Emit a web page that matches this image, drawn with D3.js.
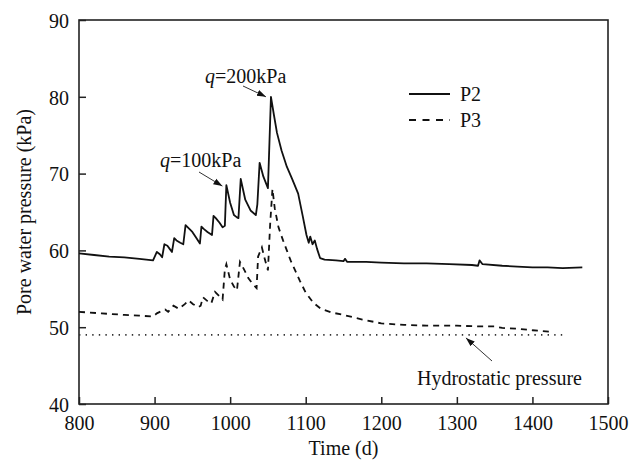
<!DOCTYPE html>
<html><head><meta charset="utf-8">
<script src="https://cdn.jsdelivr.net/npm/d3@7"></script>
<style>body{margin:0;background:#fff}svg{display:block}</style>
</head><body>
<svg id="c" width="640" height="465" font-family="Liberation Serif, Tinos, Times New Roman, DejaVu Serif, serif"></svg>
<script>
const FONT = "Liberation Serif, Tinos, Times New Roman, DejaVu Serif, serif";
const xTicks = [800, 900, 1000, 1100, 1200, 1300, 1400, 1500];
const yTicks = [40, 50, 60, 70, 80, 90];
const seriesNames = ["P2", "P3"];
const p2Time = [800,820,840,860,880,898,903,907,910,913,917,920,923,926,929,934,938,941,944,950,954,960,962,965,970,976,978,981,986,990,993,995,1000,1005,1009,1011,1014,1020,1027,1034,1036,1039,1044,1050,1052,1054,1058,1062,1068,1075,1082,1090,1096,1101,1104,1106,1109,1112,1115,1119,1125,1140,1150,1152,1155,1180,1200,1230,1260,1290,1320,1328,1330,1334,1360,1380,1400,1420,1440,1466];
const p2Val  = [59.6,59.4,59.2,59.1,58.9,58.7,59.8,59.5,59.1,60.8,60.6,60.2,59.8,61.6,61.3,61.0,60.8,63.3,63.0,62.4,61.8,60.9,63.1,62.8,62.4,62.0,64.5,64.2,63.6,63.0,63.2,68.5,66.2,64.6,64.3,64.2,69.3,66.6,65.2,64.6,66.0,71.4,69.6,68.1,74.0,80.0,77.6,75.3,73.0,70.9,69.3,67.4,64.5,62.0,61.0,61.8,60.8,61.3,60.2,59.0,58.8,58.7,58.6,58.9,58.5,58.5,58.4,58.3,58.3,58.2,58.1,58.0,58.7,58.2,58.0,57.9,57.8,57.8,57.7,57.8];
const p3Time = [800,830,860,880,898,903,907,914,918,925,932,940,945,951,958,961,964,970,975,980,986,990,993,995,1000,1005,1009,1013,1018,1024,1030,1035,1037,1042,1046,1050,1053,1056,1059,1064,1070,1075,1080,1086,1092,1100,1110,1120,1135,1150,1175,1200,1230,1260,1300,1330,1350,1360,1380,1400,1426];
const p3Val  = [52.0,51.8,51.6,51.5,51.4,51.8,52.0,52.3,52.0,52.8,52.4,53.0,53.5,53.0,52.6,52.8,53.9,53.4,53.1,54.6,54.0,53.6,57.5,58.2,56.2,55.3,54.8,58.5,57.6,56.4,55.6,55.1,59.2,60.4,58.8,57.4,63.5,68.0,65.5,63.0,61.3,60.0,58.7,57.4,56.1,54.5,53.2,52.4,51.9,51.6,51.0,50.5,50.3,50.2,50.2,50.1,50.1,49.9,49.8,49.6,49.4];
const hydroTime = [800, 1441];
const hydroVal = [49, 49];

const svg = d3.select("#c");
const m = {l:79, r:608, t:20, b:404};
const x = d3.scaleLinear().domain([800,1500]).range([m.l, m.r]);
const y = d3.scaleLinear().domain([40,90]).range([m.b, m.t]);

function txt(sel){ return sel.attr("font-family",FONT).attr("font-size",20).attr("fill","#111"); }

// axes
const xa = svg.append("g").attr("transform",`translate(0,${m.b})`)
  .call(d3.axisBottom(x).tickValues(xTicks).tickSize(-7).tickPadding(11).tickFormat(d3.format("d")));
const ya = svg.append("g").attr("transform",`translate(${m.l},0)`)
  .call(d3.axisLeft(y).tickValues(yTicks).tickSize(-7).tickPadding(10).tickFormat(d3.format("d")));
[xa, ya].forEach(g=>{
  g.attr("font-family",FONT).attr("font-size",20);
  g.select(".domain").remove();
  g.selectAll("line").attr("stroke","#222").attr("stroke-width",1.5);
  txt(g.selectAll("text"));
});
ya.selectAll("text").attr("dy","0.36em");
xa.selectAll("text").attr("dy","0.76em");
// frame
svg.append("rect").attr("x",m.l).attr("y",m.t).attr("width",m.r-m.l).attr("height",m.b-m.t)
  .attr("fill","none").attr("stroke","#222").attr("stroke-width",1.6);

// lines
const line = d3.line().x(d=>x(d[0])).y(d=>y(d[1]));
svg.append("path").datum(hydroTime.map((t,i)=>[t,hydroVal[i]])).attr("d",line)
  .attr("fill","none").attr("stroke","#333").attr("stroke-width",1.6).attr("stroke-dasharray","1.4,5.2");
svg.append("path").datum(p3Time.map((t,i)=>[t,p3Val[i]])).attr("d",line)
  .attr("fill","none").attr("stroke","#111").attr("stroke-width",1.8).attr("stroke-dasharray","6,5");
svg.append("path").datum(p2Time.map((t,i)=>[t,p2Val[i]])).attr("d",line)
  .attr("fill","none").attr("stroke","#111").attr("stroke-width",1.8).attr("stroke-linejoin","round");

// legend
const lg = svg.append("g");
[[seriesNames[0],null,94],[seriesNames[1],"7,6.5",120]].forEach(([n,da,yy])=>{
  lg.append("line").attr("x1",409).attr("x2",450).attr("y1",yy).attr("y2",yy)
    .attr("stroke","#111").attr("stroke-width",1.8).attr("stroke-dasharray",da);
  txt(lg.append("text").attr("x",460).attr("y",yy).attr("dy","0.35em")).text(n);
});

// arrows
svg.append("defs").append("marker").attr("id","ah").attr("viewBox","0 0 10 10").attr("refX",10).attr("refY",5)
  .attr("markerWidth",9).attr("markerHeight",9).attr("markerUnits","userSpaceOnUse").attr("orient","auto")
  .append("path").attr("d","M0,1.5L10,5L0,8.5Z").attr("fill","#111");
function arrow(x1,y1,x2,y2){
  svg.append("line").attr("x1",x1).attr("y1",y1).attr("x2",x2).attr("y2",y2)
    .attr("stroke","#333").attr("stroke-width",1).attr("marker-end","url(#ah)");
}
function qlabel(tx,ty,val){
  const t = txt(svg.append("text").attr("x",tx).attr("y",ty));
  t.append("tspan").attr("font-style","italic").text("q");
  t.append("tspan").text("="+val+"kPa");
}
qlabel(205,83,"200");
arrow(243,86,x(1054)-5,y(80));
qlabel(160,167,"100");
arrow(199,172,x(995)-4,y(68.5)+1);
txt(svg.append("text").attr("x",417).attr("y",385)).text("Hydrostatic pressure");
arrow(492,361,x(1312),y(49)+3);

// axis titles
txt(svg.append("text").attr("x",(m.l+m.r)/2).attr("y",455).attr("text-anchor","middle")).text("Time (d)");
txt(svg.append("text").attr("transform",`translate(31,${(m.t+m.b)/2}) rotate(-90)`).attr("text-anchor","middle"))
  .text("Pore water pressure (kPa)");
</script>
</body></html>
